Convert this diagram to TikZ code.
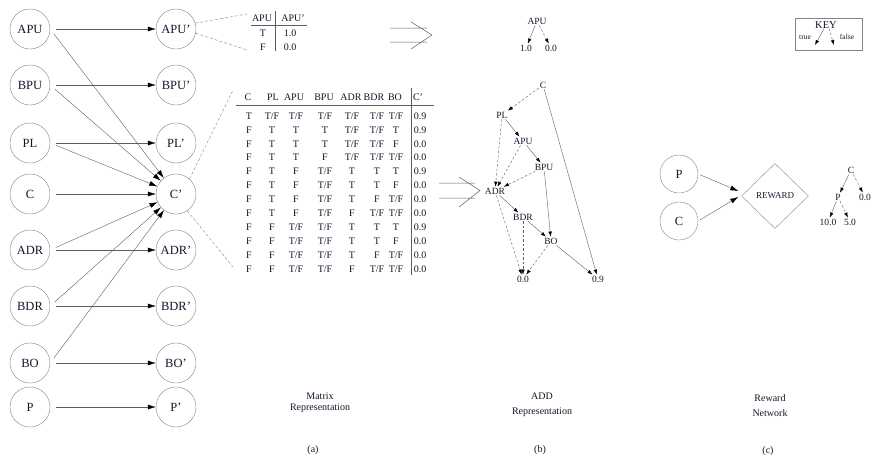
\documentclass[tikz,border=0pt]{standalone}
\usepackage{fontspec}
\setmainfont{Liberation Serif}
\usetikzlibrary{arrows.meta,positioning,shapes.geometric}
\definecolor{Ink}{HTML}{15152B}
\definecolor{LineGray}{HTML}{858585}
\definecolor{EdgeGray}{HTML}{5E5E5E}
\protected\def\either{T/F}

\begin{document}
\begin{tikzpicture}[x=1pt,y=-1pt,
  every node/.style={text=Ink},
  var/.style={circle,draw=LineGray,minimum size=40pt,inner sep=0pt,font=\fontsize{12.5}{14}\selectfont},
  link/.style={draw=EdgeGray,-{Latex[length=8pt,width=5pt,color=black]},shorten <=6pt},
  guide/.style={draw=LineGray,dash pattern=on 3pt off 2pt},
  cell/.style={inner sep=0pt,font=\fontsize{10}{12}\selectfont},
  tabrule/.style={draw=EdgeGray,line width=0.6pt},
  dlabel/.style={inner sep=1pt,font=\fontsize{9.5}{11}\selectfont},
  truebr/.style={draw=EdgeGray,-{Latex[length=5pt,width=3.5pt,color=black]}},
  falsebr/.style={truebr,dash pattern=on 2.5pt off 2pt},
  dbl/.style={draw=EdgeGray,line width=0.5pt},
  caption/.style={align=center,font=\fontsize{10}{11}\selectfont}]
  \useasboundingbox (0,0) rectangle (873,458);

  % (a) two-slice network
  \foreach \v/\y in {APU/29,BPU/85,PL/143,C/194,ADR/250,BDR/306,BO/363,P/407}{
    \node[var] (\v) at (30,\y) {\v};
    \node[var] (n\v) at (176,\y) {\v'};
  }
  \foreach \v in {APU,BPU,PL,C,ADR,BDR,BO,P}
    \draw[link] (\v.east) -- (n\v);
  \foreach \v in {APU,BPU,PL,ADR,BDR,BO}
    \draw[link] (\v.east) -- (nC);

  % small table for APU'
  \node[cell] (tA) at (262,18) {APU};
  \node[cell] (tAn) at (293,18) {APU'};
  \node[cell] (tT) at (263,33) {T};
  \node[cell] (t1) at (290,33) {1.0};
  \node[cell] (tF) at (263,47) {F};
  \node[cell] (t0) at (290,47) {0.0};
  \draw[tabrule] (251,25) -- (307,25);
  \draw[tabrule] (275,11) -- (275,51);
  \coordinate (tu) at (247,14);
  \coordinate (tl) at (247,50);
  \draw[guide] (nAPU.17) -- (tu);
  \draw[guide] (nAPU.-12) -- (tl);

  % big table for C'
  \foreach \h/\x [count=\k] in {C/248,PL/273,APU/294,BPU/324,ADR/351,BDR/374,BO/395,C'/418}
    \node[cell] (hd\k) at (\x,97) {\h};
  \foreach \va/\vb/\vc/\vd/\ve/\vf/\vg/\vh [count=\i] in {
    T/\either/\either/\either/\either/\either/\either/0.9,
    F/T/T/T/\either/\either/T/0.9,
    F/T/T/T/\either/\either/F/0.0,
    F/T/T/F/\either/\either/\either/0.0,
    F/T/F/\either/T/T/T/0.9,
    F/T/F/\either/T/T/F/0.0,
    F/T/F/\either/T/F/\either/0.0,
    F/T/F/\either/F/\either/\either/0.0,
    F/F/\either/\either/T/T/T/0.9,
    F/F/\either/\either/T/T/F/0.0,
    F/F/\either/\either/T/F/\either/0.0,
    F/F/\either/\either/F/\either/\either/0.0}{
    \foreach \val/\x [count=\j] in {\va/249,\vb/272,\vc/296,\vd/325,\ve/352,\vf/377,\vg/396,\vh/420}
      \node[cell] (r\i c\j) at (\x,{116+13.9*(\i-1)}) {\val};
  }
  \draw[tabrule] (236,105) -- (434,105);
  \draw[tabrule] (411,88) -- (411,275);
  \coordinate (bu) at (233,90);
  \coordinate (bl) at (233,267);
  \draw[guide] (nC.48) -- (bu);
  \draw[guide] (nC.-56) -- (bl);

  % double arrows
  \coordinate (m0) at (390,35);
  \coordinate (m1) at (439,190.5);
  \draw[dbl] (m0) ++(0,-7) -- ++(37,0) (m0) ++(0,7) -- ++(37,0)
    (m0) ++(21,-13) -- ++(21,13) -- ++(-21,14);
  \draw[dbl] (m1) ++(0,-7.5) -- ++(36,0) (m1) ++(0,7.5) -- ++(36,0)
    (m1) ++(20,-13.5) -- ++(21,13.5) -- ++(-21,16.5);

  % (b) ADDs
  \node[dlabel] (kAPU) at (537,21) {APU};
  \node[dlabel] (k10) at (526,48) {1.0};
  \node[dlabel] (k00) at (551,48) {0.0};
  \draw[truebr] (kAPU) -- (k10);
  \draw[falsebr] (kAPU) -- (k00);

  \node[dlabel] (aC) at (543,85) {C};
  \node[dlabel] (aPL) at (502,115) {PL};
  \node[dlabel] (aAPU) at (523,141) {APU};
  \node[dlabel] (aBPU) at (544,167) {BPU};
  \node[dlabel] (aADR) at (495,191) {ADR};
  \node[dlabel] (aBDR) at (523,217) {BDR};
  \node[dlabel] (aBO) at (551,241) {BO};
  \node[dlabel] (a00) at (523,279) {0.0};
  \node[dlabel] (a09) at (598,279) {0.9};
  \foreach \s/\t/\b in {aC/aPL/falsebr,aC/a09/truebr,aPL/aAPU/truebr,aPL/aADR/falsebr,
      aAPU/aBPU/truebr,aAPU/aADR/falsebr,aBPU/aADR/falsebr,aBPU/aBO/truebr,
      aADR/aBDR/truebr,aADR/a00/falsebr,aBDR/aBO/truebr,aBDR/a00/falsebr,
      aBO/a00/falsebr,aBO/a09/truebr}
    \draw[\b] (\s) -- (\t);

  % key
  \node[draw=LineGray,minimum width=67pt,minimum height=32pt,inner sep=0pt] (keybox) at (828.5,34) {};
  \node[inner sep=0pt,font=\fontsize{10.5}{12}\selectfont] (keyt) at (826,25) {KEY};
  \node[inner sep=0pt,font=\fontsize{7.5}{9}\selectfont] (ktrue) at (805,37) {true};
  \node[inner sep=0pt,font=\fontsize{7.5}{9}\selectfont] (kfalse) at (847,37) {false};
  \coordinate (kt) at (815,45);
  \coordinate (kf) at (834,45);
  \draw[truebr] ([xshift=-2pt]keyt.south) -- (kt);
  \draw[falsebr] ([xshift=3pt]keyt.south) -- (kf);

  % (c) reward network
  \node[var,minimum size=38pt] (rP) at (679,174) {P};
  \node[var,minimum size=38pt] (rC) at (679,221) {C};
  \node[diamond,draw=LineGray,minimum width=67pt,minimum height=65pt,inner sep=0pt,
    font=\fontsize{9}{11}\selectfont] (rew) at (775,196) {REWARD};
  \draw[link,shorten <=2pt] (rP.east) -- ([xshift=-3pt,yshift=5pt]rew.west);
  \draw[link,shorten <=2pt] (rC.east) -- ([xshift=-3pt,yshift=-1pt]rew.west);

  \node[dlabel] (tC) at (851,170) {C};
  \node[dlabel] (tP) at (838,197) {P};
  \node[dlabel] (t00) at (865,197) {0.0};
  \node[dlabel] (t10) at (828,222) {10.0};
  \node[dlabel] (t50) at (850,222) {5.0};
  \draw[truebr] (tC) -- (tP);
  \draw[falsebr] (tC) -- (t00);
  \draw[truebr] (tP) -- (t10);
  \draw[falsebr] (tP) -- (t50);

  % captions
  \node[caption] (capa) at (320,402.5) {Matrix\\Representation};
  \node[caption] (capb) at (542,405) {ADD\\[4pt]Representation};
  \node[caption] (capc) at (770,406) {Reward\\[4pt]Network};
  \node[caption] (laba) at (313,450) {(a)};
  \node[caption] (labb) at (540,450) {(b)};
  \node[caption] (labc) at (768,451) {(c)};
\end{tikzpicture}
\end{document}
